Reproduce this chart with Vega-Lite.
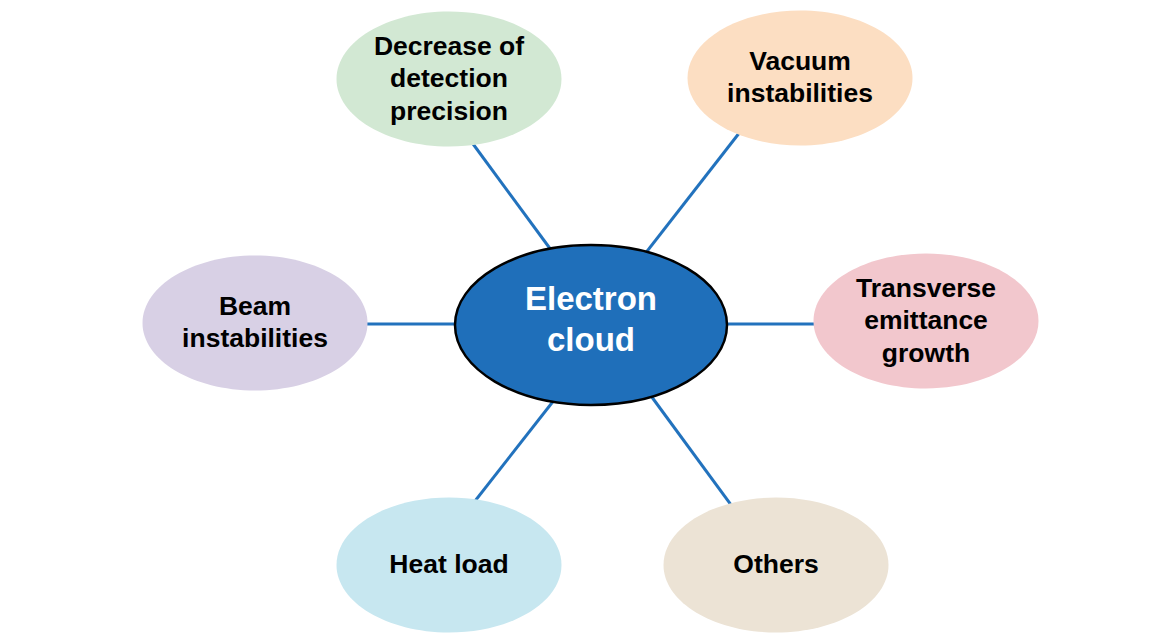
{
  "$schema": "https://vega.github.io/schema/vega-lite/v6.json",
  "width": 1165,
  "height": 633,
  "padding": 0,
  "autosize": {"type": "fit", "contains": "padding"},
  "background": "white",
  "config": {"view": {"stroke": null}},
  "datasets": {
    "nodes": [
      {"name": "Electron\ncloud", "role": "center", "x": 591, "y": 325},
      {"name": "Decrease of\ndetection\nprecision", "role": "satellite", "x": 449, "y": 79},
      {"name": "Vacuum\ninstabilities", "role": "satellite", "x": 800, "y": 78},
      {"name": "Beam\ninstabilities", "role": "satellite", "x": 255, "y": 323},
      {"name": "Transverse\nemittance\ngrowth", "role": "satellite", "x": 926, "y": 321},
      {"name": "Heat load", "role": "satellite", "x": 449, "y": 565},
      {"name": "Others", "role": "satellite", "x": 776, "y": 565}
    ],
    "links": [
      {"x": 465, "y": 133, "x2": 554, "y2": 254},
      {"x": 747, "y": 123, "x2": 641, "y2": 259},
      {"x": 355, "y": 324, "x2": 470, "y2": 324},
      {"x": 712, "y": 324, "x2": 825, "y2": 324},
      {"x": 562, "y": 390, "x2": 468, "y2": 510},
      {"x": 643, "y": 385, "x2": 737, "y2": 513}
    ]
  },
  "layer": [
    {
      "data": {"name": "links"},
      "mark": {"type": "rule", "color": "#2272bd", "strokeWidth": 3},
      "encoding": {
        "x": {"field": "x", "type": "quantitative", "scale": {"domain": [0, 1165], "nice": false, "zero": false}, "axis": null},
        "y": {"field": "y", "type": "quantitative", "scale": {"domain": [0, 633], "nice": false, "zero": false, "reverse": true}, "axis": null},
        "x2": {"field": "x2"},
        "y2": {"field": "y2"}
      }
    },
    {
      "data": {"name": "nodes"},
      "transform": [{"filter": "datum.role === 'satellite'"}],
      "mark": {
        "type": "point",
        "filled": true,
        "opacity": 1,
        "size": 50625,
        "shape": "M 1 0 C 1 0.3314 0.5523 0.6 0 0.6 C -0.5523 0.6 -1 0.3314 -1 0 C -1 -0.3314 -0.5523 -0.6 0 -0.6 C 0.5523 -0.6 1 -0.3314 1 0 Z"
      },
      "encoding": {
        "x": {"field": "x", "type": "quantitative", "scale": {"domain": [0, 1165], "nice": false, "zero": false}, "axis": null},
        "y": {"field": "y", "type": "quantitative", "scale": {"domain": [0, 633], "nice": false, "zero": false, "reverse": true}, "axis": null},
        "color": {
          "field": "name",
          "type": "nominal",
          "legend": null,
          "scale": {
            "domain": ["Decrease of\ndetection\nprecision", "Vacuum\ninstabilities", "Beam\ninstabilities", "Transverse\nemittance\ngrowth", "Heat load", "Others"],
            "range": ["#d2e8d3", "#fcdec2", "#d8d0e5", "#f2c7cd", "#c7e7f0", "#ece3d5"]
          }
        }
      }
    },
    {
      "data": {"name": "nodes"},
      "transform": [{"filter": "datum.role === 'center'"}],
      "mark": {
        "type": "point",
        "filled": true,
        "opacity": 1,
        "color": "#1f6fba",
        "stroke": "#000000",
        "strokeWidth": 2.5,
        "size": 73984,
        "shape": "M 1 0 C 1 0.3250 0.5523 0.588 0 0.588 C -0.5523 0.588 -1 0.3250 -1 0 C -1 -0.3250 -0.5523 -0.588 0 -0.588 C 0.5523 -0.588 1 -0.3250 1 0 Z"
      },
      "encoding": {
        "x": {"field": "x", "type": "quantitative", "scale": {"domain": [0, 1165], "nice": false, "zero": false}, "axis": null},
        "y": {"field": "y", "type": "quantitative", "scale": {"domain": [0, 633], "nice": false, "zero": false, "reverse": true}, "axis": null}
      }
    },
    {
      "data": {"name": "nodes"},
      "transform": [{"filter": "datum.role === 'satellite' && length(split(datum.name, '\\n')) === 3"}],
      "mark": {
        "type": "text",
        "font": "Liberation Sans",
        "fontWeight": "bold",
        "fontSize": 26.5,
        "lineHeight": 32.5,
        "lineBreak": "\n",
        "color": "#000000",
        "align": "center",
        "baseline": "middle",
        "dy": -32.5
      },
      "encoding": {
        "x": {"field": "x", "type": "quantitative", "scale": {"domain": [0, 1165], "nice": false, "zero": false}, "axis": null},
        "y": {"field": "y", "type": "quantitative", "scale": {"domain": [0, 633], "nice": false, "zero": false, "reverse": true}, "axis": null},
        "text": {"field": "name", "type": "nominal"}
      }
    },
    {
      "data": {"name": "nodes"},
      "transform": [{"filter": "datum.role === 'satellite' && length(split(datum.name, '\\n')) === 2"}],
      "mark": {
        "type": "text",
        "font": "Liberation Sans",
        "fontWeight": "bold",
        "fontSize": 26.5,
        "lineHeight": 32.5,
        "lineBreak": "\n",
        "color": "#000000",
        "align": "center",
        "baseline": "middle",
        "dy": -16.25
      },
      "encoding": {
        "x": {"field": "x", "type": "quantitative", "scale": {"domain": [0, 1165], "nice": false, "zero": false}, "axis": null},
        "y": {"field": "y", "type": "quantitative", "scale": {"domain": [0, 633], "nice": false, "zero": false, "reverse": true}, "axis": null},
        "text": {"field": "name", "type": "nominal"}
      }
    },
    {
      "data": {"name": "nodes"},
      "transform": [{"filter": "datum.role === 'satellite' && length(split(datum.name, '\\n')) === 1"}],
      "mark": {
        "type": "text",
        "font": "Liberation Sans",
        "fontWeight": "bold",
        "fontSize": 26.5,
        "color": "#000000",
        "align": "center",
        "baseline": "middle"
      },
      "encoding": {
        "x": {"field": "x", "type": "quantitative", "scale": {"domain": [0, 1165], "nice": false, "zero": false}, "axis": null},
        "y": {"field": "y", "type": "quantitative", "scale": {"domain": [0, 633], "nice": false, "zero": false, "reverse": true}, "axis": null},
        "text": {"field": "name", "type": "nominal"}
      }
    },
    {
      "data": {"name": "nodes"},
      "transform": [{"filter": "datum.role === 'center'"}],
      "mark": {
        "type": "text",
        "font": "Liberation Sans",
        "fontWeight": "bold",
        "fontSize": 33,
        "lineHeight": 41,
        "lineBreak": "\n",
        "color": "#ffffff",
        "align": "center",
        "baseline": "middle",
        "dy": -25
      },
      "encoding": {
        "x": {"field": "x", "type": "quantitative", "scale": {"domain": [0, 1165], "nice": false, "zero": false}, "axis": null},
        "y": {"field": "y", "type": "quantitative", "scale": {"domain": [0, 633], "nice": false, "zero": false, "reverse": true}, "axis": null},
        "text": {"field": "name", "type": "nominal"}
      }
    }
  ]
}
